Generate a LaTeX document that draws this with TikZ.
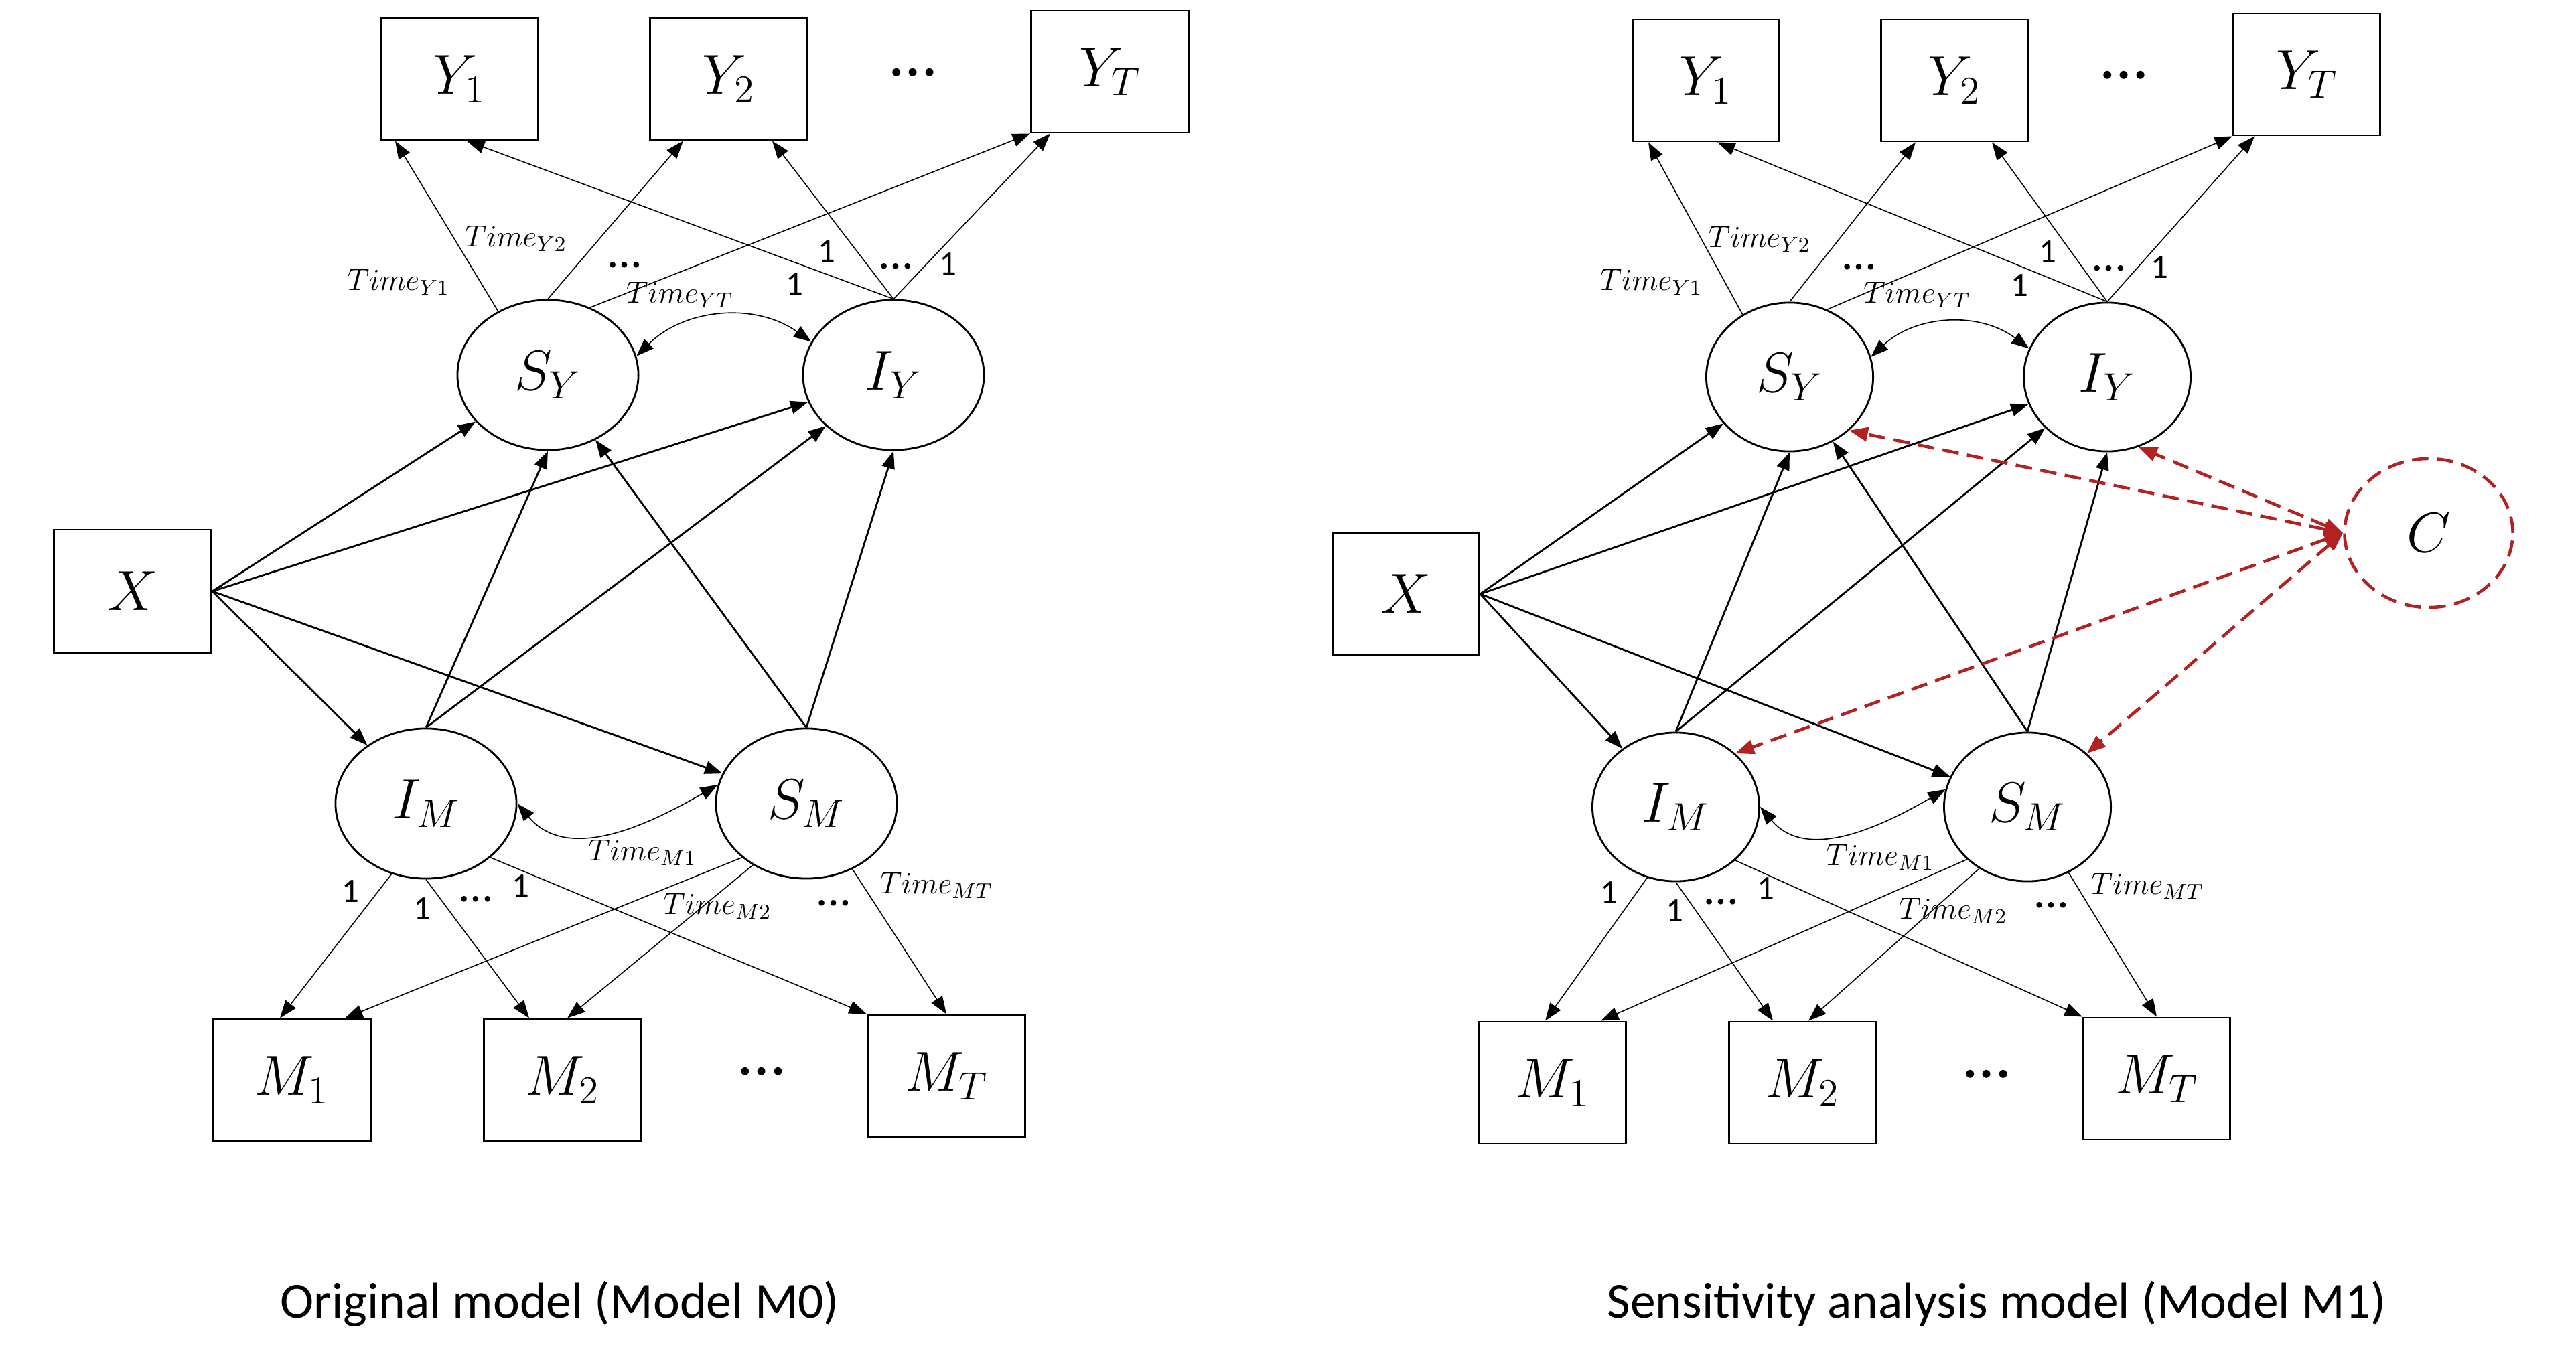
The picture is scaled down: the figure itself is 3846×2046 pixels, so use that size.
\RequirePackage{fix-cm}
\documentclass[tikz,border=0pt]{standalone}
\usepackage{fontspec}
\newfontfamily\calib{Carlito}
\usepackage{xcolor}
\definecolor{cred}{RGB}{178,34,34}
\usetikzlibrary{arrows.meta,shapes.geometric,calc}

\begin{document}
\begin{tikzpicture}
	[x=0.01cm,y=-0.01cm,
	every node/.style={inner sep=0pt},
	obs/.style={draw,line width=0.8pt,minimum width=2.35cm,minimum height=1.82cm,font=\fontsize{24}{28}\selectfont},
	obsb/.style={obs,minimum width=2.19cm},
	lat/.style={draw,ellipse,line width=0.8pt,minimum width=2.7cm,minimum height=2.24cm,font=\fontsize{24}{28}\selectfont},
	latb/.style={lat,minimum width=2.49cm,minimum height=2.22cm},
	reg/.style={line width=0.8pt,-{Triangle[length=7.5pt,width=5.5pt]}},
	ld/.style={line width=0.45pt,-{Triangle[length=7.5pt,width=5.5pt]}},
	cov/.style={line width=0.45pt,{Triangle[length=7.5pt,width=5.5pt]}-{Triangle[length=7.5pt,width=5.5pt]}},
	conf/.style={draw=cred,line width=1.3pt,dash pattern=on 7pt off 3.6pt,{Triangle[length=8pt,width=6pt]}-{Triangle[length=8pt,width=6pt]}},
	lab/.style={font=\fontsize{13}{15}\selectfont},
	onel/.style={font=\calib\fontsize{14.5}{16}\selectfont},
	dts/.style={font=\calib\fontsize{28}{30}\selectfont},
	sdts/.style={font=\calib\fontsize{20}{22}\selectfont},
	capt/.style={font=\calib\fontsize{21.5}{25}\selectfont}]
	\useasboundingbox (0,0) rectangle (3846,2046);
	% original model
	\node[obs] (Y1a) at (686,118) {$Y_1$};
	\node[obs] (Y2a) at (1088,118) {$Y_2$};
	\node[dts] (dYa) at (1363,108) {…};
	\node[obs] (YTa) at (1657,107) {$Y_T$};
	\node[lat] (SYa) at (818,560) {$S_Y$};
	\node[lat] (IYa) at (1334,560) {$I_Y$};
	\node[obs,minimum height=1.84cm] (Xa) at (198,883) {$X$};
	\node[lat] (IMa) at (636,1200) {$I_M$};
	\node[lat] (SMa) at (1204,1200) {$S_M$};
	\node[obs] (M1a) at (436,1613) {$M_1$};
	\node[obs] (M2a) at (840,1613) {$M_2$};
	\node[dts] (dMa) at (1137,1600) {…};
	\node[obs] (MTa) at (1413,1607) {$M_T$};
	\node[capt] (capa) at (836,1947) {Original model (Model M0)};
	\draw[ld] (SYa.128) -- ($(Y1a.south)+(-96,0)$);
	\draw[ld] (SYa.north) -- ($(Y2a.south)+(-68,0)$);
	\draw[ld] (SYa.58) -- (YTa.south west);
	\draw[ld] (IYa.north) -- ($(Y1a.south)+(11,0)$);
	\draw[ld] (IYa.north) -- ($(Y2a.south)+(65,0)$);
	\draw[ld] (IYa.north) -- ($(YTa.south)+(-89,0)$);
	\draw[cov] (SYa.12) to[bend left=40] (IYa.158);
	\draw[reg] (Xa.east) -- (SYa);
	\draw[reg] (Xa.east) -- (IYa);
	\draw[reg] (Xa.east) -- (IMa);
	\draw[reg] (Xa.east) -- (SMa);
	\draw[reg] (IMa.north) -- (SYa.south);
	\draw[reg] (IMa.north) -- (IYa);
	\draw[reg] (SMa.north) -- (SYa);
	\draw[reg] (SMa.north) -- (IYa.south);
	\draw[cov] (IMa.east) to[out=-50,in=-150] (SMa.168);
	\draw[ld] (IMa.-116) -- ($(M1a.north)+(-18,0)$);
	\draw[ld] (IMa.south) -- ($(M2a.north)+(-50,0)$);
	\draw[ld] (IMa.-40) -- (MTa.north west);
	\draw[ld] (SMa.-140) -- ($(M1a.north)+(79,0)$);
	\draw[ld] (SMa.-131) -- ($(M2a.north)+(7,0)$);
	\draw[ld] (SMa.-55) -- (MTa.north);
	\node[lab] (tY1a) at (595,421) {$Time_{Y1}$};
	\node[lab] (tY2a) at (770,356) {$Time_{Y2}$};
	\node[sdts] (d1a) at (933,396) {…};
	\node[lab] (tYTa) at (1015,440) {$Time_{YT}$};
	\node[onel] (o1a) at (1234,375) {1};
	\node[onel] (o2a) at (1186,424) {1};
	\node[sdts] (d2a) at (1338,398) {…};
	\node[onel] (o3a) at (1415,394) {1};
	\node[onel] (o4a) at (523,1331) {1};
	\node[onel] (o5a) at (630,1357) {1};
	\node[sdts] (d3a) at (711,1343) {…};
	\node[onel] (o6a) at (777,1323) {1};
	\node[lab] (tM1a) at (959,1273) {$Time_{M1}$};
	\node[lab] (tM2a) at (1071,1353) {$Time_{M2}$};
	\node[sdts] (d4a) at (1245,1349) {…};
	\node[lab] (tMTa) at (1398,1322) {$Time_{MT}$};
	% sensitivity model
	\node[obsb] (Y1b) at (2547,120) {$Y_1$};
	\node[obsb] (Y2b) at (2918,120) {$Y_2$};
	\node[dts] (dYb) at (3171,112) {…};
	\node[obsb] (YTb) at (3444,111) {$Y_T$};
	\node[latb] (SYb) at (2672,563) {$S_Y$};
	\node[latb] (IYb) at (3146,563) {$I_Y$};
	\node[obsb] (Xb) at (2099,887) {$X$};
	\node[latb] (IMb) at (2502,1205) {$I_M$};
	\node[latb] (SMb) at (3027,1205) {$S_M$};
	\node[obsb] (M1b) at (2318,1617) {$M_1$};
	\node[obsb] (M2b) at (2691,1617) {$M_2$};
	\node[dts] (dMb) at (2966,1604) {…};
	\node[obsb] (MTb) at (3220,1611) {$M_T$};
	\node[latb,draw=cred,line width=1.3pt,dash pattern=on 7pt off 3.6pt,minimum width=2.51cm] (C) at (3626,796) {$C$};
	\node[capt] (capb) at (2981,1947) {Sensitivity analysis model (Model M1)};
	\draw[ld] (SYb.127) -- ($(Y1b.south)+(-86,0)$);
	\draw[ld] (SYb.north) -- ($(Y2b.south)+(-58,0)$);
	\draw[ld] (SYb.61) -- (YTb.south west);
	\draw[ld] (IYb.north) -- ($(Y1b.south)+(17,0)$);
	\draw[ld] (IYb.north) -- ($(Y2b.south)+(56,0)$);
	\draw[ld] (IYb.north) -- ($(YTb.south)+(-78,0)$);
	\draw[cov] (SYb.14) to[bend left=40] (IYb.160);
	\draw[reg] (Xb.east) -- (SYb);
	\draw[reg] (Xb.east) -- (IYb);
	\draw[reg] (Xb.east) -- (IMb);
	\draw[reg] (Xb.east) -- (SMb);
	\draw[reg] (IMb.north) -- (SYb.south);
	\draw[reg] (IMb.north) -- (IYb);
	\draw[reg] (SMb.north) -- (SYb);
	\draw[reg] (SMb.north) -- (IYb.south);
	\draw[cov] (IMb.east) to[out=-50,in=-150] (SMb.168);
	\draw[ld] (IMb.-112) -- ($(M1b.north)+(-11,0)$);
	\draw[ld] (IMb.south) -- ($(M2b.north)+(-44,0)$);
	\draw[ld] (IMb.-42) -- (MTb.north west);
	\draw[ld] (SMb.-139) -- ($(M1b.north)+(72,0)$);
	\draw[ld] (SMb.-128) -- ($(M2b.north)+(9,0)$);
	\draw[ld] (SMb.-58) -- (MTb.north);
	\draw[conf] (C.west) -- (SYb.-42);
	\draw[conf] (C.west) -- (IYb.-66);
	\draw[conf] (C.west) -- (IMb.42);
	\draw[conf] (C.west) -- (SMb.42);
	\node[lab] (tY1b) at (2465,421) {$Time_{Y1}$};
	\node[lab] (tY2b) at (2627,357) {$Time_{Y2}$};
	\node[sdts] (d1b) at (2776,399) {…};
	\node[lab] (tYTb) at (2862,440) {$Time_{YT}$};
	\node[onel] (o1b) at (3057,376) {1};
	\node[onel] (o2b) at (3015,426) {1};
	\node[sdts] (d2b) at (3149,401) {…};
	\node[onel] (o3b) at (3224,399) {1};
	\node[onel] (o4b) at (2402,1333) {1};
	\node[onel] (o5b) at (2500,1360) {1};
	\node[sdts] (d3b) at (2570,1347) {…};
	\node[onel] (o6b) at (2636,1327) {1};
	\node[lab] (tM1b) at (2807,1280) {$Time_{M1}$};
	\node[lab] (tM2b) at (2916,1360) {$Time_{M2}$};
	\node[sdts] (d4b) at (3063,1352) {…};
	\node[lab] (tMTb) at (3206,1323) {$Time_{MT}$};
\end{tikzpicture}
\end{document}
